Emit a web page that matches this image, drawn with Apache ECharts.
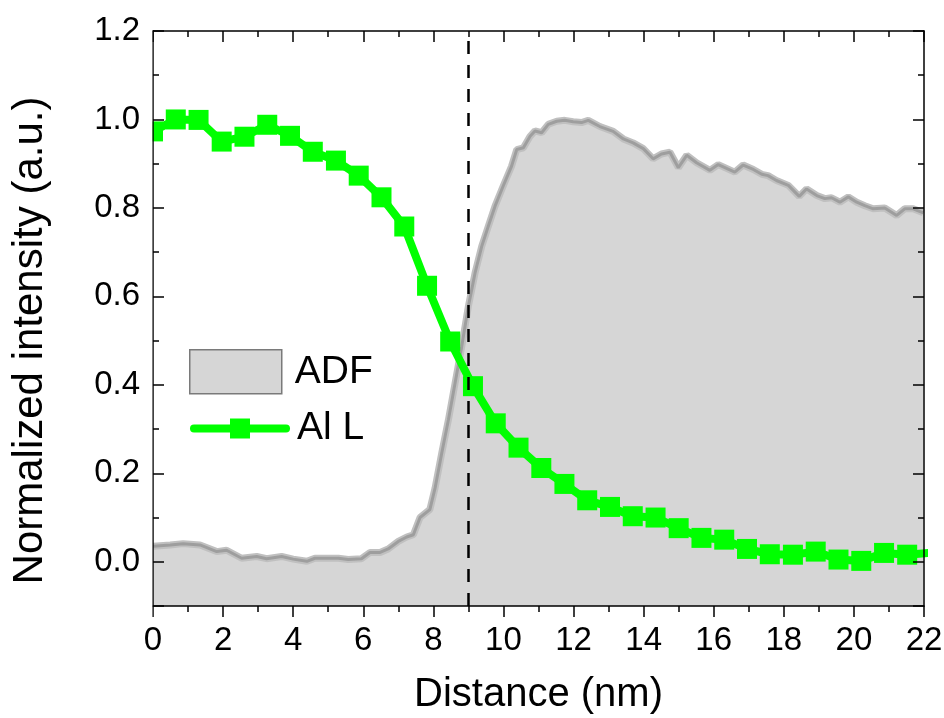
<!DOCTYPE html>
<html>
<head>
<meta charset="utf-8">
<script src="https://cdn.jsdelivr.net/npm/echarts@6/dist/echarts.min.js"></script>
<style>
  html, body { margin: 0; padding: 0; background: #fff; }
  #chart { width: 944px; height: 718px; }
</style>
</head>
<body>
<div id="chart"></div>
<script>
// ADF line profile (distance in nm, normalized intensity)
const adfDistance = [0.01, 0.49, 0.86, 1.34, 1.82, 2.10, 2.53, 2.96, 3.24, 3.67, 4.00, 4.39, 4.62, 5.29, 5.57, 5.95,
  6.19, 6.48, 6.71, 7.00, 7.24, 7.43, 7.62, 7.90, 8.05, 8.24, 8.43, 8.62, 8.81, 9.00, 9.19, 9.38, 9.57, 9.76,
  9.99, 10.23, 10.38, 10.57, 10.76, 10.90, 11.09, 11.28, 11.52, 11.75, 11.99, 12.23, 12.42, 12.75, 13.13, 13.42,
  13.70, 13.99, 14.27, 14.51, 14.75, 14.99, 15.23, 15.51, 15.89, 16.13, 16.60, 16.84, 17.13, 17.37, 17.55, 17.79,
  18.13, 18.44, 18.65, 18.94, 19.17, 19.36, 19.60, 19.84, 20.08, 20.31, 20.55, 20.88, 21.22, 21.45, 21.69, 21.98];
const adfIntensity = [0.035, 0.038, 0.041, 0.038, 0.023, 0.026, 0.008, 0.012, 0.007, 0.012, 0.006, 0.001, 0.008, 0.008, 0.005, 0.007,
  0.021, 0.021, 0.029, 0.046, 0.056, 0.061, 0.100, 0.118, 0.167, 0.246, 0.321, 0.404, 0.487, 0.578, 0.653, 0.713, 0.759, 0.804,
  0.849, 0.894, 0.932, 0.936, 0.962, 0.974, 0.970, 0.989, 0.996, 0.998, 0.995, 0.993, 0.998, 0.984, 0.973, 0.956,
  0.947, 0.934, 0.911, 0.922, 0.926, 0.891, 0.919, 0.902, 0.885, 0.898, 0.881, 0.897, 0.887, 0.876, 0.873, 0.862,
  0.851, 0.826, 0.843, 0.828, 0.821, 0.823, 0.813, 0.825, 0.813, 0.805, 0.798, 0.800, 0.783, 0.798, 0.798, 0.789];

// Al L edge profile
const alDistance = [0, 0.65, 1.30, 1.96, 2.61, 3.26, 3.91, 4.56, 5.22, 5.87, 6.52, 7.17, 7.82, 8.48, 9.13, 9.78,
  10.43, 11.08, 11.74, 12.39, 13.04, 13.69, 14.34, 15.00, 15.65, 16.30, 16.95, 17.60, 18.26, 18.91, 19.56, 20.21,
  20.86, 21.52, 22.17];
const alIntensity = [0.973, 1.000, 0.999, 0.950, 0.961, 0.988, 0.963, 0.927, 0.907, 0.873, 0.824, 0.758, 0.624, 0.498, 0.397, 0.313,
  0.258, 0.212, 0.176, 0.139, 0.124, 0.103, 0.100, 0.076, 0.054, 0.050, 0.029, 0.017, 0.016, 0.023, 0.005, 0.002,
  0.020, 0.016, 0.020];

// Interface position (nm)
const interfaceX = 9;

const seriesNames = ['ADF', 'Al L'];
const xTitle = 'Distance (nm)';
const yTitle = 'Normalized intensity (a.u.)';

const FONT = "'Liberation Sans', Arial, sans-serif";
const pair = (xs, ys) => xs.map((x, i) => [x, ys[i]]);

const chart = echarts.init(document.getElementById('chart'), null, { renderer: 'canvas' });

const xCommon = {
  type: 'value', min: 0, max: 22, interval: 2,
  splitLine: { show: false },
  axisLine: { onZero: false, lineStyle: { color: '#000', width: 1.5 } },
  minorTick: { show: true, splitNumber: 2, length: 6, lineStyle: { color: '#000', width: 1.5 } },
  z: 10
};
const yCommon = {
  type: 'value', min: -0.1, max: 1.2, splitNumber: 6,
  splitLine: { show: false },
  axisLine: { onZero: false, lineStyle: { color: '#000', width: 1.5 } },
  minorTick: { show: true, splitNumber: 2, length: 6, lineStyle: { color: '#000', width: 1.5 } },
  z: 10
};

chart.setOption({
  animation: false,
  backgroundColor: '#fff',
  textStyle: { fontFamily: FONT },
  grid: { left: 153, right: 20, top: 31, bottom: 112, containLabel: false, outerBoundsMode: 'none' },
  xAxis: [
    Object.assign({}, xCommon, {
      position: 'bottom',
      name: xTitle, nameLocation: 'middle', nameGap: 69,
      nameTextStyle: { fontSize: 40, color: '#000', fontFamily: FONT },
      axisTick: { inside: false, length: 11, lineStyle: { color: '#000', width: 1.5 } },
      axisLabel: { fontSize: 33, color: '#000', margin: 18, fontFamily: FONT }
    }),
    Object.assign({}, xCommon, {
      position: 'top',
      axisTick: { inside: true, length: 11, lineStyle: { color: '#000', width: 1.5 } },
      axisLabel: { show: false }
    })
  ],
  yAxis: [
    Object.assign({}, yCommon, {
      position: 'left',
      name: yTitle, nameLocation: 'middle', nameGap: 102,
      nameTextStyle: { fontSize: 42, color: '#000', fontFamily: FONT, padding: [0, 44, 0, 0] },
      axisTick: { inside: true, length: 11, lineStyle: { color: '#000', width: 1.5 } },
      axisLabel: { fontSize: 33, color: '#000', margin: 13, showMinLabel: false, fontFamily: FONT,
        formatter: v => v.toFixed(1) }
    }),
    Object.assign({}, yCommon, {
      position: 'right',
      axisTick: { inside: true, length: 11, lineStyle: { color: '#000', width: 1.5 } },
      axisLabel: { show: false }
    })
  ],
  legend: [
    {
      data: [{ name: seriesNames[0], icon: 'rect',
        itemStyle: { color: '#d6d6d6', borderColor: '#7a7a7a', borderWidth: 1.5 } }],
      left: 189, top: 349, padding: 0, itemWidth: 92, itemHeight: 44,
      textStyle: { fontSize: 39, color: '#000', fontFamily: FONT, padding: [0, 0, 0, 8] },
      selectedMode: false
    },
    {
      data: [{ name: seriesNames[1],
        lineStyle: { color: '#00ff00', width: 8, cap: 'round' } }],
      left: 190, top: 409, padding: 0, itemWidth: 92, itemHeight: 25,
      lineStyle: { width: 8, cap: 'round' },
      textStyle: { fontSize: 39, color: '#000', fontFamily: FONT, padding: [0, 0, 0, 6] },
      selectedMode: false
    }
  ],
  graphic: [
    // keeps edge markers inside the frame
    { type: 'rect', shape: { x: 141, y: 20, width: 11.3, height: 600 }, style: { fill: '#fff' }, z: 50 }
  ],
  series: [
    {
      name: seriesNames[0], type: 'line',
      data: pair(adfDistance, adfIntensity),
      symbol: 'none', smooth: false,
      itemStyle: { color: '#d6d6d6' },
      lineStyle: { color: '#c0c0c0', width: 7 },
      areaStyle: { color: '#d6d6d6', opacity: 1, origin: 'start' },
      z: 2
    },
    {
      name: 'ADF edge', type: 'line',
      data: pair(adfDistance, adfIntensity),
      symbol: 'none',
      lineStyle: { color: '#9e9e9e', width: 3 },
      z: 2
    },
    {
      name: seriesNames[1], type: 'line',
      data: pair(alDistance, alIntensity),
      symbol: 'rect', symbolSize: 20,
      itemStyle: { color: '#00ff00' },
      lineStyle: { color: '#00ff00', width: 8, cap: 'round', join: 'round' },
      z: 3
    },
    {
      name: 'interface', type: 'line', data: [],
      markLine: {
        silent: true, symbol: 'none',
        label: { show: false },
        lineStyle: { color: '#000', width: 2.5, type: [13, 11] },
        data: [{ xAxis: interfaceX }]
      },
      z: 4
    }
  ]
});
</script>
</body>
</html>
